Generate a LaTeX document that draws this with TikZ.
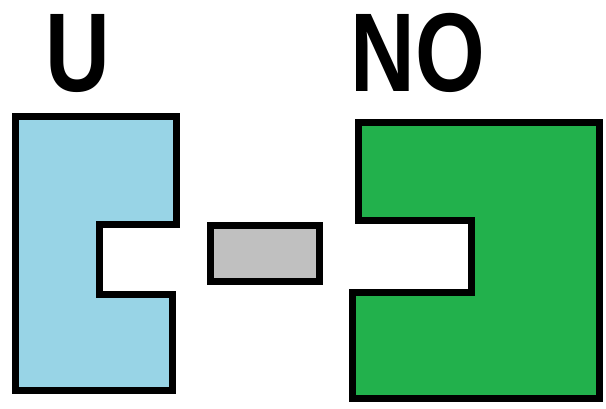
\documentclass[tikz,border=0pt]{standalone}
\usepackage{fontspec}
\usepackage{graphicx}
\setmainfont{Liberation Sans}
\definecolor{lblue}{RGB}{152,212,230}
\definecolor{pgreen}{RGB}{34,177,76}
\definecolor{lgray}{RGB}{192,192,192}
\tikzset{
  shapeline/.style={draw=black, line width=7pt, line join=miter},
  lbl/.style={font=\fontsize{112}{112}\selectfont\bfseries, inner sep=0pt, anchor=base}
}
\begin{document}
\begin{tikzpicture}[x=1pt,y=-1pt]
\useasboundingbox (0,0) rectangle (606,408);
% left (U) piece
\draw[shapeline, fill=lblue] (15,116) -- (176,116) -- (176,224) -- (99,224) -- (99,294) -- (172,294) -- (172,390) -- (15,390) -- cycle;
% middle gray piece
\draw[shapeline, fill=lgray] (210,225) rectangle (319,281);
% right (NO) piece
\draw[shapeline, fill=pgreen] (358,122) -- (599,122) -- (599,398) -- (352,398) -- (352,292) -- (471,292) -- (471,220) -- (358,220) -- cycle;
\node[lbl] (u) at (78,91) {\scalebox{0.8}[1]{U}};
\node[lbl] (no) at (418,91) {\scalebox{0.8}[1]{NO}};
\end{tikzpicture}
\end{document}
